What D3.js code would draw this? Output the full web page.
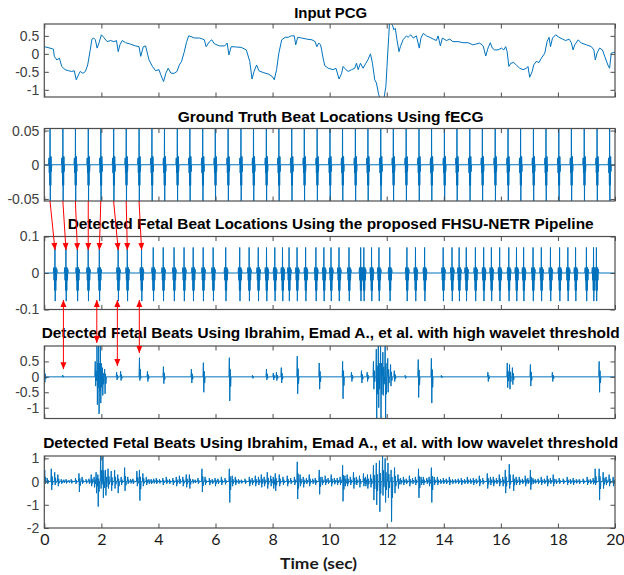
<!DOCTYPE html>
<html>
<head>
<meta charset="utf-8">
<script src="https://cdn.jsdelivr.net/npm/d3@7"></script>
<style>
  body { margin: 0; background: #fff; }
  svg { display: block; }
</style>
</head>
<body>
<svg id="chart" width="624" height="575"></svg>
<script>
// ---- data ----
const titles = [
  'Input PCG',
  'Ground Truth Beat Locations Using fECG',
  'Detected Fetal Beat Locations Using the proposed FHSU-NETR Pipeline',
  'Detected Fetal Beats Using Ibrahim, Emad A., et al. with high wavelet threshold',
  'Detected Fetal Beats Using Ibrahim, Emad A., et al. with low wavelet threshold'
];
const xTicks = [0, 2, 4, 6, 8, 10, 12, 14, 16, 18, 20];
const yTicks1 = [-1, -0.5, 0, 0.5];
const yTicks2 = [-0.05, 0, 0.05];
const yTicks3 = [-0.1, 0, 0.1];
const yTicks4 = [-1, -0.5, 0, 0.5];
const yTicks5 = [-2, -1, 0, 1];
const xLabel = 'Time (sec)';

// input PCG trace [time, amplitude]
const pcg = [[0,0.2],[0.2,0.16],[0.32,0.13],[0.35,-0.07],[0.44,-0.17],[0.53,-0.12],[0.61,-0.35],[0.73,-0.44],[0.85,-0.47],[0.96,-0.49],[1.05,-0.47],[1.12,-0.72],[1.2,-0.58],[1.26,-0.49],[1.35,-0.54],[1.44,-0.49],[1.52,-0.31],[1.61,0.11],[1.67,0.41],[1.73,0.44],[1.79,0.39],[1.85,0.16],[1.92,0.31],[2.0,0.53],[2.08,0.46],[2.2,0.34],[2.32,0.37],[2.44,0.34],[2.53,0.37],[2.59,0.06],[2.65,0.25],[2.73,0.37],[2.85,0.31],[3.02,0.27],[3.2,0.22],[3.32,0.2],[3.38,-0.07],[3.47,0.2],[3.55,0.22],[3.67,-0.17],[3.79,-0.35],[3.9,-0.47],[4.02,-0.44],[4.08,-0.58],[4.18,-0.77],[4.26,-0.54],[4.34,-0.4],[4.44,-0.54],[4.55,-0.54],[4.65,-0.49],[4.73,-0.31],[4.81,-0.21],[4.9,0.04],[4.98,0.31],[5.06,0.5],[5.14,0.48],[5.26,0.44],[5.44,0.44],[5.55,0.41],[5.61,0.39],[5.67,0.2],[5.79,0.34],[5.87,0.39],[5.96,0.28],[6.14,0.22],[6.32,0.22],[6.41,0.3],[6.47,-0.03],[6.55,0.2],[6.73,0.19],[6.9,0.18],[7.08,0.11],[7.2,-0.21],[7.28,-0.7],[7.35,-0.49],[7.44,-0.31],[7.52,-0.47],[7.67,-0.52],[7.85,-0.56],[7.99,-0.63],[8.06,-0.72],[8.14,-0.44],[8.22,0.02],[8.32,0.39],[8.44,0.46],[8.55,0.46],[8.65,0.5],[8.76,0.5],[8.81,0.25],[8.88,0.46],[9.02,0.44],[9.2,0.41],[9.38,0.39],[9.49,0.34],[9.55,0.2],[9.62,0.3],[9.68,0.25],[9.72,0.11],[9.77,-0.12],[9.83,-0.33],[9.95,-0.4],[10.12,-0.44],[10.22,-0.4],[10.33,-0.7],[10.42,-0.54],[10.47,-0.35],[10.57,-0.44],[10.65,-0.49],[10.77,-0.44],[10.88,-0.4],[10.94,-0.26],[11.0,-0.44],[11.08,-0.26],[11.17,-0.4],[11.27,-0.26],[11.35,-0.15],[11.43,0.0],[11.5,-0.26],[11.58,-0.72],[11.64,-0.81],[11.72,-1.14],[11.78,-1.25],[11.9,-1.25],[11.97,-0.91],[12.01,-0.35],[12.07,0.48],[12.1,0.9],[12.2,0.8],[12.25,0.67],[12.3,0.71],[12.36,0.39],[12.43,0.06],[12.48,0.2],[12.57,0.39],[12.69,0.5],[12.75,0.46],[12.84,0.53],[12.93,0.44],[13.04,0.5],[13.14,0.16],[13.2,0.44],[13.28,0.57],[13.39,0.5],[13.51,0.46],[13.63,0.41],[13.74,0.37],[13.8,0.5],[13.88,0.22],[13.95,0.44],[14.09,0.37],[14.21,0.41],[14.32,0.34],[14.5,0.34],[14.67,0.31],[14.85,0.31],[15.02,0.25],[15.26,0.3],[15.38,0.22],[15.47,-0.06],[15.55,0.16],[15.63,0.31],[15.7,0.16],[15.78,0.11],[15.9,0.11],[16.02,0.16],[16.1,0.11],[16.17,0.2],[16.22,0.06],[16.28,-0.35],[16.35,-0.26],[16.45,-0.24],[16.54,-0.31],[16.66,-0.4],[16.78,-0.44],[16.9,-0.4],[16.95,-0.35],[17.01,-0.65],[17.1,-0.49],[17.15,-0.31],[17.24,-0.21],[17.34,-0.24],[17.42,-0.12],[17.54,0.02],[17.62,0.34],[17.69,0.46],[17.74,0.2],[17.81,0.44],[17.92,0.53],[18.04,0.46],[18.16,0.41],[18.27,0.37],[18.39,0.41],[18.47,0.31],[18.53,0.11],[18.59,0.25],[18.71,0.39],[18.82,0.3],[19.0,0.25],[19.17,0.2],[19.26,0.11],[19.31,-0.17],[19.37,0.02],[19.46,0.16],[19.56,0.11],[19.64,-0.07],[19.75,-0.31],[19.81,-0.4],[19.87,0.02],[19.95,0.04],[20,0.04]];

// fECG ground truth beat times (s)
const gtBeats = [0.20,0.65,1.09,1.54,1.98,2.43,2.87,3.32,3.77,4.21,4.66,5.10,5.55,5.99,6.44,6.89,7.33,7.78,8.22,8.67,9.11,9.56,10.01,10.45,10.90,11.34,11.79,12.23,12.68,13.13,13.57,14.02,14.46,14.91,15.35,15.80,16.25,16.69,17.14,17.58,18.03,18.47,18.92,19.37,19.81];
// waveform of one ground-truth beat [offset s, amplitude]
const gtShape = [[-0.05,0],[-0.035,0.01],[-0.025,-0.012],[-0.014,0.01],[-0.006,-0.03],[0.002,0.08],[0.01,-0.08],[0.018,0.012],[0.028,-0.03],[0.038,0.012],[0.048,-0.01],[0.06,0]];

// FHSU-NETR detected beat times (s)
const detBeats = [0.375,0.76,1.16,1.54,1.93,2.59,2.91,3.41,3.82,4.17,4.55,4.9,5.22,5.57,5.92,6.36,6.85,7.18,7.5,7.79,8.08,8.35,8.58,8.86,9.16,9.52,9.8,10.05,10.33,10.68,11.09,11.2,11.47,11.73,12.11,12.71,13.01,13.33,13.98,14.29,14.54,14.79,15.11,15.4,15.67,15.96,16.28,16.55,16.8,17.13,17.42,17.74,18.06,18.35,18.62,19.0,19.25,19.35];
const detShape = [[-0.06,0],[-0.045,0.015],[-0.033,-0.02],[-0.022,0.012],[-0.012,-0.048],[-0.002,0.07],[0.008,-0.077],[0.018,0.015],[0.028,-0.048],[0.04,0.015],[0.052,-0.02],[0.065,0.01],[0.078,0]];

// wavelet-threshold detections [time, peak up, peak down]
const highEvents = [[0.02,0.25,-0.18],[0.66,0.06,-0.02],[1.8,0.5,-0.3],[1.86,1.1,-0.9],[1.92,1.1,-1.2],[1.98,1.1,-0.85],[2.05,0.3,-0.6],[2.13,0.25,-0.55],[2.55,0.15,-0.1],[2.69,0.18,-0.12],[3.35,0.62,-0.12],[3.63,0.18,-0.15],[4.19,0.33,-0.22],[5.17,0.25,-0.2],[5.59,0.46,-0.5],[6.5,0.62,-0.78],[7.31,0.05,-0.05],[7.8,0.25,-0.1],[8.04,0.12,-0.1],[8.15,0.15,-0.12],[8.32,0.3,-0.2],[8.88,0.67,-0.55],[9.65,0.45,-0.4],[10.47,0.5,-0.71],[10.78,0.15,-0.15],[11.13,0.2,-0.2],[11.33,0.15,-0.15],[11.55,0.5,-0.4],[11.65,0.9,-1.4],[11.72,1.1,-1.0],[11.8,1.1,-1.4],[11.88,0.8,-0.6],[11.96,1.1,-1.4],[12.05,0.6,-0.5],[12.15,0.4,-0.3],[12.28,0.2,-0.15],[12.66,0.05,-0.05],[13.12,0.56,-0.67],[13.58,0.6,-0.85],[13.93,0.05,-0.03],[15.56,0.15,-0.15],[16.24,0.45,-0.35],[16.32,0.4,-0.4],[16.42,0.3,-0.25],[17.05,0.4,-0.3],[17.82,0.15,-0.15],[19.46,0.5,-0.5]];
const lowEvents = [[0.03,0.5,-0.1],[0.12,0.15,-0.1],[0.26,0.55,-0.36],[0.38,0.4,-0.15],[0.49,0.3,-0.2],[0.61,0.1,-0.1],[0.7,0.08,-0.06],[0.78,0.1,-0.08],[0.88,0.06,-0.05],[0.96,0.1,-0.08],[1.11,0.15,-0.1],[1.23,0.35,-0.45],[1.34,0.2,-0.1],[1.48,0.1,-0.08],[1.58,0.12,-0.1],[1.66,0.3,-0.2],[1.76,0.2,-0.25],[1.83,0.4,-0.5],[1.89,0.3,-1.08],[1.99,1.2,-0.3],[2.07,1.2,-0.7],[2.16,0.5,-0.6],[2.25,0.55,-0.3],[2.36,0.45,-0.4],[2.48,0.5,-0.3],[2.59,0.3,-0.5],[2.71,0.2,-0.15],[2.83,0.6,-0.4],[2.94,0.2,-0.1],[3.04,0.1,-0.08],[3.12,0.12,-0.1],[3.26,0.45,-0.2],[3.35,0.5,-0.82],[3.47,0.35,-0.2],[3.59,0.2,-0.15],[3.68,0.1,-0.1],[3.76,0.1,-0.1],[3.85,0.12,-0.08],[3.94,0.15,-0.1],[4.05,0.1,-0.08],[4.17,0.15,-0.15],[4.29,0.2,-0.1],[4.4,0.1,-0.1],[4.52,0.15,-0.15],[4.64,0.2,-0.2],[4.75,0.25,-0.1],[4.87,0.2,-0.2],[4.99,0.3,-0.25],[5.1,0.3,-0.3],[5.22,0.1,-0.08],[5.3,0.08,-0.06],[5.4,0.15,-0.1],[5.54,0.55,-0.45],[5.65,0.2,-0.15],[5.8,0.15,-0.15],[5.9,0.1,-0.1],[6.0,0.15,-0.2],[6.1,0.12,-0.1],[6.22,0.2,-0.15],[6.35,0.15,-0.12],[6.5,0.55,-0.9],[6.6,0.25,-0.2],[6.71,0.2,-0.15],[6.82,0.1,-0.1],[6.92,0.08,-0.08],[7.05,0.12,-0.1],[7.2,0.2,-0.2],[7.3,0.15,-0.15],[7.41,0.25,-0.2],[7.52,0.2,-0.15],[7.62,0.3,-0.25],[7.72,0.2,-0.2],[7.83,0.4,-0.3],[7.95,0.25,-0.2],[8.04,0.2,-0.3],[8.11,0.35,-0.4],[8.25,0.3,-0.2],[8.38,0.2,-0.15],[8.53,0.25,-0.2],[8.65,0.15,-0.1],[8.78,0.2,-0.15],[8.88,0.85,-0.75],[8.98,0.3,-0.2],[9.09,0.2,-0.25],[9.2,0.15,-0.1],[9.3,0.3,-0.2],[9.42,0.12,-0.1],[9.51,0.15,-0.15],[9.65,0.5,-0.55],[9.75,0.2,-0.15],[9.86,0.25,-0.15],[9.96,0.15,-0.1],[10.07,0.3,-0.2],[10.18,0.15,-0.12],[10.28,0.15,-0.15],[10.38,0.2,-0.15],[10.47,0.7,-0.85],[10.55,0.25,-0.2],[10.63,0.3,-0.2],[10.74,0.2,-0.15],[10.85,0.4,-0.3],[10.95,0.2,-0.15],[11.06,0.25,-0.25],[11.2,0.35,-0.2],[11.27,0.2,-0.2],[11.34,0.3,-0.3],[11.45,0.3,-0.25],[11.55,0.7,-0.8],[11.65,0.8,-1.0],[11.76,0.9,-1.3],[11.87,1.2,-0.6],[11.96,1.0,-0.9],[12.06,0.8,-0.7],[12.17,0.5,-1.73],[12.29,0.6,-0.5],[12.41,0.3,-0.3],[12.5,0.15,-0.12],[12.6,0.2,-0.15],[12.7,0.12,-0.1],[12.81,0.25,-0.2],[12.92,0.15,-0.1],[13.02,0.2,-0.15],[13.13,0.55,-0.7],[13.22,0.2,-0.15],[13.3,0.2,-0.15],[13.42,0.15,-0.1],[13.5,0.2,-0.2],[13.58,0.6,-0.9],[13.68,0.2,-0.15],[13.79,0.2,-0.15],[13.9,0.1,-0.1],[14.0,0.15,-0.1],[14.1,0.12,-0.1],[14.21,0.2,-0.15],[14.32,0.1,-0.1],[14.42,0.1,-0.08],[14.52,0.12,-0.1],[14.63,0.15,-0.15],[14.74,0.1,-0.1],[14.84,0.2,-0.1],[14.95,0.12,-0.1],[15.05,0.15,-0.15],[15.15,0.12,-0.1],[15.26,0.25,-0.2],[15.38,0.15,-0.12],[15.54,0.35,-0.3],[15.65,0.2,-0.15],[15.75,0.2,-0.2],[15.86,0.15,-0.1],[15.96,0.3,-0.2],[16.08,0.2,-0.2],[16.17,0.5,-0.5],[16.31,0.75,-0.3],[16.45,0.3,-0.4],[16.55,0.2,-0.15],[16.66,0.2,-0.15],[16.77,0.12,-0.1],[16.87,0.25,-0.2],[16.96,0.15,-0.1],[17.05,0.5,-0.35],[17.14,0.15,-0.1],[17.22,0.1,-0.08],[17.32,0.12,-0.1],[17.43,0.2,-0.15],[17.54,0.12,-0.1],[17.64,0.25,-0.2],[17.75,0.15,-0.1],[17.85,0.3,-0.2],[17.95,0.1,-0.1],[18.06,0.15,-0.1],[18.2,0.12,-0.1],[18.34,0.2,-0.15],[18.45,0.1,-0.1],[18.55,0.15,-0.15],[18.66,0.1,-0.08],[18.76,0.1,-0.1],[18.9,0.12,-0.1],[19.04,0.2,-0.15],[19.15,0.1,-0.1],[19.25,0.15,-0.12],[19.32,0.55,-0.15],[19.46,0.55,-0.8],[19.6,0.4,-0.3],[19.7,0.2,-0.15],[19.81,0.3,-0.2],[19.95,0.2,-0.2]];
// one detection wiggle: [offset s, share of up, share of down]
const eventShape = [[-0.03,0,0],[-0.015,1,0],[0,0,1],[0.015,0.4,0],[0.03,0,0.4],[0.045,0,0]];

// red annotation arrows
const arrowCount = 8;                 // ground truth -> proposed pipeline
const arrowTipValue = 0.063;          // tip height in panel 3
const linkTimes = [0.67, 1.84, 2.56, 3.33];   // pipeline <-> high threshold
const linkTopValue = -0.074;
const linkBottomValues = [0.25, 1.1, 0.35, 0.77];

// ---- layout ----
const svg = d3.select('#chart');
const left = 44.3, right = 615;
const x = d3.scaleLinear().domain([0, 20]).range([left, right]);

const panels = [
  { top: 24,    bottom: 97,    domain: [-1.2, 0.83],   ticks: yTicks1, titleY: 18,  titleW: 73 },
  { top: 128.5, bottom: 201,   domain: [-0.053, 0.053], ticks: yTicks2, titleY: 122, titleW: 306 },
  { top: 236.5, bottom: 309.5, domain: [-0.1, 0.1],    ticks: yTicks3, titleY: 229, titleW: 526 },
  { top: 346,   bottom: 418.5, domain: [-1.35, 1.0],   ticks: yTicks4, titleY: 338, titleW: 578 },
  { top: 456,   bottom: 528,   domain: [-2, 1.1],      ticks: yTicks5, titleY: 448, titleW: 575 }
];
panels.forEach(p => {
  p.y = d3.scaleLinear().domain(p.domain).range([p.bottom, p.top]);
});

// build the traces
function beatTrace(times, shape) {
  const pts = [[0, 0]];
  times.forEach(t => shape.forEach(s => pts.push([t + s[0], s[1]])));
  pts.push([20, 0]);
  return pts;
}
function eventTrace(events) {
  const pts = [[0, 0], [20, 0]];
  events.forEach(e => eventShape.forEach(s => pts.push([e[0] + s[0], s[1] * e[1] + s[2] * e[2]])));
  return pts.sort((a, b) => a[0] - b[0]);
}
const traces = [
  pcg,
  beatTrace(gtBeats, gtShape),
  beatTrace(detBeats, detShape),
  eventTrace(highEvents),
  eventTrace(lowEvents)
];

const defs = svg.append('defs');
const tickLen = 4.5;

panels.forEach((p, i) => {
  const g = svg.append('g');

  defs.append('clipPath').attr('id', 'clip' + i)
    .append('rect')
    .attr('x', left).attr('y', p.top)
    .attr('width', right - left).attr('height', p.bottom - p.top);

  // signal
  const line = d3.line().x(d => x(d[0])).y(d => p.y(d[1]));
  g.append('path')
    .datum(traces[i])
    .attr('clip-path', `url(#clip${i})`)
    .attr('fill', 'none')
    .attr('stroke', '#0072BD')
    .attr('stroke-width', 1)
    .attr('stroke-linejoin', 'round')
    .attr('d', line);

  // axes, ticks pointing inward on all four sides
  const yl = g.append('g').attr('transform', `translate(${left},0)`)
    .call(d3.axisLeft(p.y).tickValues(p.ticks).tickSize(-tickLen).tickSizeOuter(0)
      .tickPadding(5).tickFormat(d => String(d)));
  const yr = g.append('g').attr('transform', `translate(${right},0)`)
    .call(d3.axisRight(p.y).tickValues(p.ticks).tickSize(-tickLen).tickSizeOuter(0).tickFormat(''));
  const xt = g.append('g').attr('transform', `translate(0,${p.top})`)
    .call(d3.axisTop(x).tickValues(xTicks).tickSize(-tickLen).tickSizeOuter(0).tickFormat(''));
  const xb = g.append('g').attr('transform', `translate(0,${p.bottom})`)
    .call(d3.axisBottom(x).tickValues(xTicks).tickSize(-tickLen).tickSizeOuter(0).tickPadding(6)
      .tickFormat(i === panels.length - 1 ? d => String(d) : ''));

  [yl, yr, xt, xb].forEach(a => {
    a.select('.domain').remove();
    a.selectAll('.tick line').attr('stroke', '#4d4d4d').attr('stroke-width', 1);
  });
  yl.selectAll('.tick text')
    .attr('fill', '#404040')
    .style('font-family', '"Liberation Sans", Arial, sans-serif')
    .style('font-size', '14px');
  xb.selectAll('.tick text')
    .attr('fill', '#1a1a1a')
    .style('font-family', 'Lato, "Open Sans", sans-serif')
    .style('font-size', '16px');

  // box
  g.append('rect')
    .attr('x', left).attr('y', p.top)
    .attr('width', right - left).attr('height', p.bottom - p.top)
    .attr('fill', 'none')
    .attr('stroke', '#4d4d4d')
    .attr('stroke-width', 1.2);

  // title
  g.append('text')
    .attr('x', (left + right) / 2 + 1)
    .attr('y', p.titleY)
    .attr('text-anchor', 'middle')
    .attr('textLength', p.titleW)
    .attr('lengthAdjust', 'spacingAndGlyphs')
    .style('font-family', '"Liberation Sans", Arial, sans-serif')
    .style('font-weight', 'bold')
    .style('font-size', '14px')
    .attr('fill', '#000')
    .text(titles[i]);
});

svg.append('text')
  .attr('x', 318.6)
  .attr('y', 569)
  .attr('text-anchor', 'middle')
  .attr('textLength', 77)
  .attr('lengthAdjust', 'spacingAndGlyphs')
  .style('font-family', 'Lato, "Open Sans", sans-serif')
  .style('font-weight', 'bold')
  .style('font-size', '16px')
  .attr('fill', '#1a1a1a')
  .text(xLabel);

// ---- red arrows ----
const red = '#ff0000';
const arrows = svg.append('g');
function head(x1, y1, x2, y2) {
  // filled triangle with its tip at (x2, y2)
  const len = 7, half = 3;
  const a = Math.atan2(y2 - y1, x2 - x1);
  const bx = x2 - len * Math.cos(a), by = y2 - len * Math.sin(a);
  const px = -Math.sin(a) * half, py = Math.cos(a) * half;
  arrows.append('path')
    .attr('d', `M${x2},${y2}L${bx + px},${by + py}L${bx - px},${by - py}Z`)
    .attr('fill', red);
}
function arrow(x1, y1, x2, y2, both) {
  arrows.append('line')
    .attr('x1', x1).attr('y1', y1).attr('x2', x2).attr('y2', y2)
    .attr('stroke', red).attr('stroke-width', 1);
  head(x1, y1, x2, y2);
  if (both) head(x2, y2, x1, y1);
}

const p2 = panels[1], p3 = panels[2], p4 = panels[3];
gtBeats.slice(0, arrowCount).forEach((t, k) => {
  arrow(x(t), p2.bottom, x(detBeats[k]), p3.y(arrowTipValue), false);
});
linkTimes.forEach((t, k) => {
  arrow(x(t), p3.y(linkTopValue), x(t), p4.y(linkBottomValues[k]), true);
});
</script>
</body>
</html>
